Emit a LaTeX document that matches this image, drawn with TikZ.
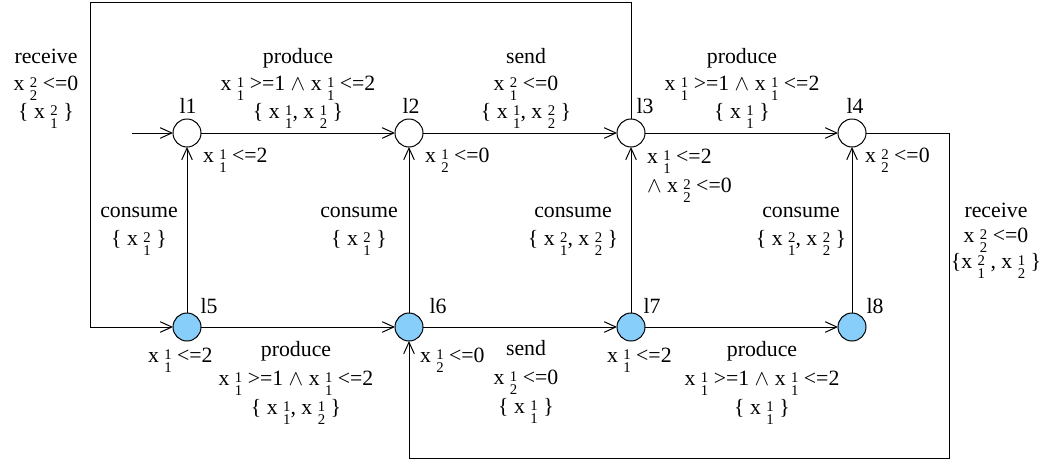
\documentclass[tikz,border=0pt]{standalone}
\usepackage{fontspec}
\setmainfont{Liberation Serif}
\usetikzlibrary{arrows.meta}
\definecolor{locblue}{RGB}{135,206,250}
\newcommand{\scr}{\fontsize{7.4}{8}\selectfont}
\newcommand{\xs}[2]{x\kern2.7pt\rlap{\raisebox{1.5pt}{\scr #1}}{\raisebox{-5pt}{\scr #2}}}
\begin{document}
\begin{tikzpicture}[x=0.5pt,y=-0.5pt,
  font=\fontsize{10.9}{13.75}\selectfont,
  every node/.style={inner sep=0pt,outer sep=0pt},
  loc/.style={circle,draw,line width=0.5pt,minimum size=14pt,fill=white},
  urg/.style={loc,fill=locblue},
  edge/.style={line width=0.5pt,-{Straight Barb[length=5.8pt,width=5.3pt]}},
  lab/.style={anchor=base,align=center},
  labl/.style={anchor=base west,align=left},
  wide/.style={font=\fontsize{10.9}{14.5}\selectfont},
  tight/.style={font=\fontsize{10.9}{12.75}\selectfont}]
\useasboundingbox (0,0) rectangle (1053,461);
% locations
\node[loc] (l1) at (187,133) {};
\node[loc] (l2) at (409,133) {};
\node[loc] (l3) at (631,133) {};
\node[loc] (l4) at (852,133) {};
\node[urg] (l5) at (187,327) {};
\node[urg] (l6) at (409,327) {};
\node[urg] (l7) at (631,327) {};
\node[urg] (l8) at (852,327) {};
% location names
\node[lab] (n1) at (188,113) {l1};
\node[lab] (n2) at (411,113) {l2};
\node[lab] (n3) at (645,113) {l3};
\node[lab] (n4) at (855,113) {l4};
\node[lab] (n5) at (209,313) {l5};
\node[lab] (n6) at (438,313) {l6};
\node[lab] (n7) at (652,313) {l7};
\node[lab] (n8) at (875,313) {l8};
% helper coordinates
\coordinate (i0) at (132,133);
\coordinate (c1) at (631,2);
\coordinate (c2) at (90,2);
\coordinate (c3) at (90,327);
\coordinate (d1) at (949,133);
\coordinate (d2) at (949,458);
\coordinate (d3) at (409,458);
% edges
\draw[edge] (i0) -- (l1);
\draw[edge] (l1) -- (l2);
\draw[edge] (l2) -- (l3);
\draw[edge] (l3) -- (l4);
\draw[edge] (l5) -- (l1);
\draw[edge] (l6) -- (l2);
\draw[edge] (l7) -- (l3);
\draw[edge] (l8) -- (l4);
\draw[edge] (l5) -- (l6);
\draw[edge] (l6) -- (l7);
\draw[edge] (l7) -- (l8);
\draw[edge] (l3) -- (c1) -- (c2) -- (c3) -- (l5);
\draw[edge] (l4) -- (d1) -- (d2) -- (d3) -- (l6);
% invariants
\node[labl] (v1) at (203,162) {\xs11\ <=2};
\node[labl] (v2) at (425,162) {\xs12\ <=0};
\node[labl,wide] (v3) at (647,192) {\xs11\ <=2\\$\wedge$ \xs22\ <=0};
\node[labl] (v4) at (865,162) {\xs22\ <=0};
\node[labl] (v5) at (148,362) {\xs11\ <=2};
\node[labl] (v6) at (420,362) {\xs12\ <=0};
\node[labl] (v7) at (607,362) {\xs11\ <=2};
% edge labels
\node[lab] (e0) at (46,118) {receive\\\xs22\ <=0\\\{ \xs21\ \}};
\node[lab] (e1) at (298,118) {produce\\\xs11\ >=1 $\wedge$ \xs11\ <=2\\\{ \xs11, \xs12\ \}};
\node[lab] (e2) at (526,118) {send\\\xs21\ <=0\\\{ \xs11, \xs22\ \}};
\node[lab] (e3) at (742,118) {produce\\\xs11\ >=1 $\wedge$ \xs11\ <=2\\\{ \xs11\ \}};
\node[lab] (e4) at (139,245) {consume\\\{ \xs21\ \}};
\node[lab] (e5) at (359,245) {consume\\\{ \xs21\ \}};
\node[lab] (e6) at (573,245) {consume\\\{ \xs21, \xs22\ \}};
\node[lab] (e7) at (801,245) {consume\\\{ \xs21, \xs22\ \}};
\node[lab,tight] (e8) at (996,268) {receive\\\xs22\ <=0\\\{\xs21\ , \xs12\ \}};
\node[lab,wide] (e9) at (296,414) {produce\\\xs11\ >=1 $\wedge$ \xs11\ <=2\\\{ \xs11, \xs12\ \}};
\node[lab,wide] (e10) at (526,413) {send\\\xs12\ <=0\\\{ \xs11\ \}};
\node[lab,wide] (e11) at (762,414) {produce\\\xs11\ >=1 $\wedge$ \xs11\ <=2\\\{ \xs11\ \}};
\end{tikzpicture}
\end{document}
